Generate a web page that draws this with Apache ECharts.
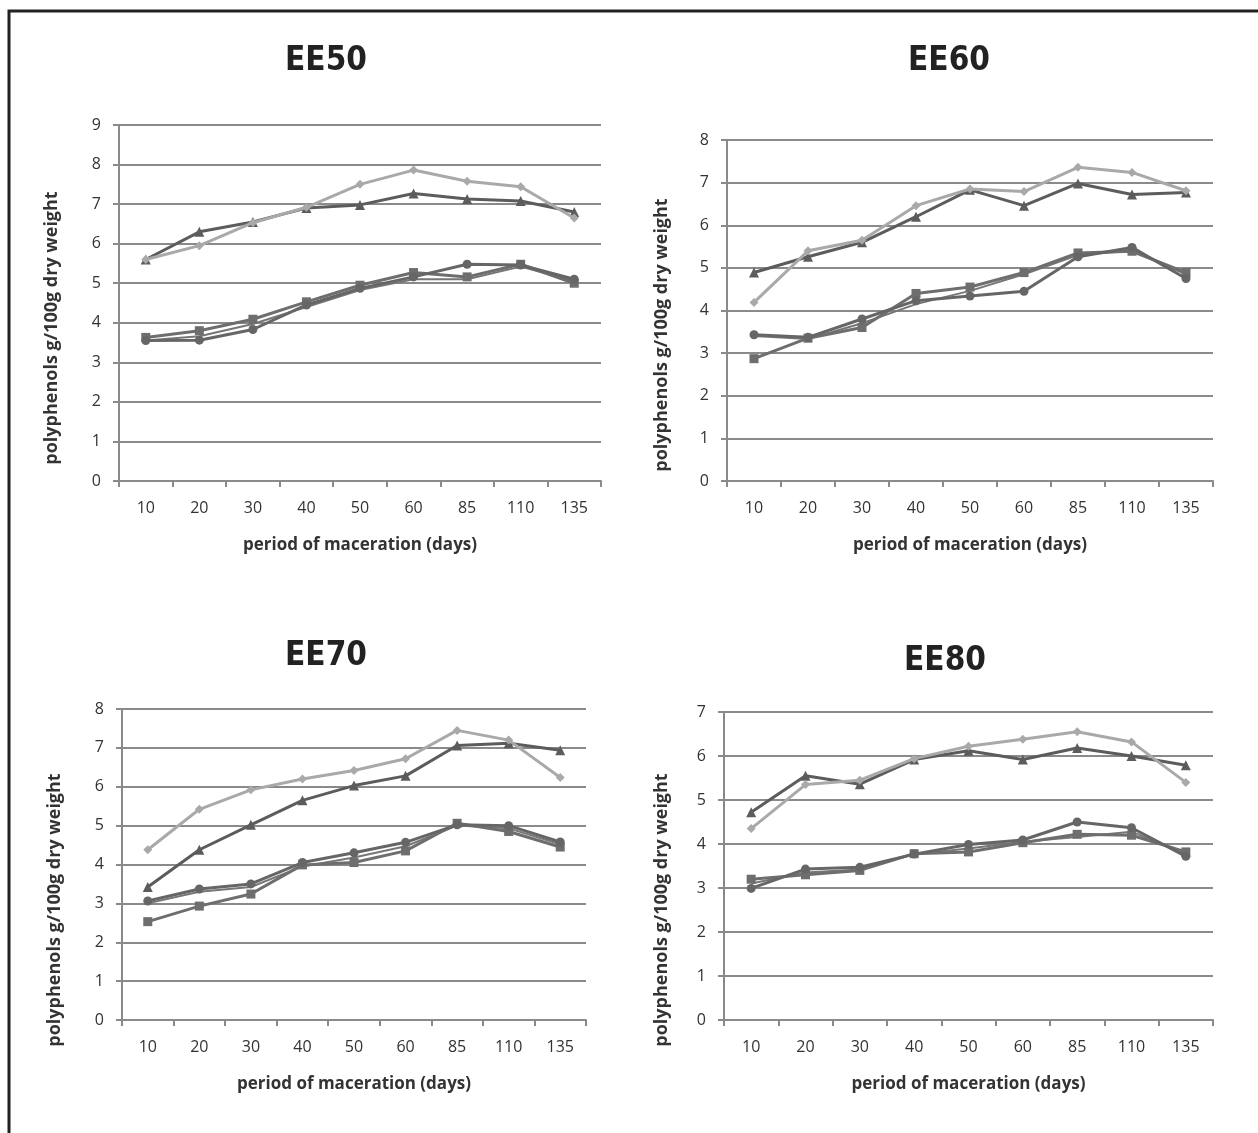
<!DOCTYPE html>
<html>
<head>
<meta charset="utf-8">
<script src="https://cdn.jsdelivr.net/npm/echarts@6/dist/echarts.min.js"></script>
<style>
  html, body { margin: 0; padding: 0; background: #fff; }
  #main { width: 1258px; height: 1133px; }
</style>
</head>
<body>
<div id="main"></div>
<script>
var days = ['10', '20', '30', '40', '50', '60', '85', '110', '135'];
var panelTitles = ['EE50', 'EE60', 'EE70', 'EE80'];
var yMaxes = [9, 8, 8, 7];

// EE50
var ee50Diamond  = [5.6, 5.95, 6.53, 6.92, 7.5, 7.86, 7.58, 7.44, 6.65];
var ee50Triangle = [5.6, 6.3, 6.55, 6.9, 6.98, 7.27, 7.13, 7.08, 6.8];
var ee50Circle   = [3.55, 3.56, 3.83, 4.45, 4.87, 5.16, 5.48, 5.46, 5.1];
var ee50Square   = [3.63, 3.8, 4.09, 4.53, 4.95, 5.27, 5.16, 5.48, 5.0];
var ee50Other    = [3.55, 3.66, 3.97, 4.4, 4.83, 5.1, 5.1, 5.42, 5.05];

// EE60
var ee60Diamond  = [4.19, 5.4, 5.65, 6.46, 6.85, 6.79, 7.36, 7.24, 6.81];
var ee60Triangle = [4.89, 5.26, 5.6, 6.2, 6.83, 6.46, 6.98, 6.72, 6.77];
var ee60Circle   = [3.43, 3.37, 3.8, 4.23, 4.34, 4.45, 5.26, 5.48, 4.75];
var ee60Square   = [2.87, 3.35, 3.6, 4.4, 4.55, 4.89, 5.35, 5.39, 4.89];
var ee60Other    = [3.4, 3.33, 3.7, 4.15, 4.46, 4.85, 5.3, 5.4, 4.85];

// EE70
var ee70Diamond  = [4.38, 5.42, 5.92, 6.2, 6.42, 6.72, 7.45, 7.2, 6.24];
var ee70Triangle = [3.42, 4.38, 5.02, 5.65, 6.03, 6.28, 7.06, 7.12, 6.94];
var ee70Circle   = [3.06, 3.37, 3.5, 4.05, 4.3, 4.57, 5.02, 5.0, 4.58];
var ee70Square   = [2.53, 2.93, 3.24, 3.99, 4.05, 4.35, 5.06, 4.85, 4.45];
var ee70Other    = [3.0, 3.3, 3.42, 3.95, 4.18, 4.47, 5.0, 4.93, 4.52];

// EE80
var ee80Diamond  = [4.35, 5.35, 5.45, 5.94, 6.22, 6.38, 6.55, 6.32, 5.4];
var ee80Triangle = [4.72, 5.55, 5.36, 5.92, 6.12, 5.92, 6.18, 6.0, 5.79];
var ee80Circle   = [2.99, 3.43, 3.47, 3.77, 3.99, 4.09, 4.5, 4.37, 3.72];
var ee80Square   = [3.2, 3.3, 3.4, 3.78, 3.82, 4.03, 4.22, 4.2, 3.82];
var ee80Other    = [3.1, 3.35, 3.42, 3.77, 3.9, 4.05, 4.16, 4.28, 3.77];

var panelData = [
    [ee50Diamond, ee50Triangle, ee50Circle, ee50Square, ee50Other],
    [ee60Diamond, ee60Triangle, ee60Circle, ee60Square, ee60Other],
    [ee70Diamond, ee70Triangle, ee70Circle, ee70Square, ee70Other],
    [ee80Diamond, ee80Triangle, ee80Circle, ee80Square, ee80Other]
];

var seriesStyle = [
    { symbol: 'diamond',  color: '#a9a9a9', size: 9,  width: 3 },
    { symbol: 'triangle', color: '#5c5c5c', size: 10, width: 3 },
    { symbol: 'circle',   color: '#666666', size: 9,  width: 3 },
    { symbol: 'rect',     color: '#6e6e6e', size: 9,  width: 3 },
    { symbol: 'none',     color: '#767676', size: 0,  width: 2 }
];

// grid boxes in px
var grids = [
    { left: 119, top: 125, width: 482, height: 356 },
    { left: 727, top: 140, width: 486, height: 341 },
    { left: 122, top: 709, width: 464, height: 311 },
    { left: 724, top: 712, width: 489, height: 308 }
];
var titlePos = [[321, 40], [944, 40], [321, 635], [940, 640]];
var yNamePos = [[52, 328], [662, 335], [55, 910], [662, 910]];

var fontMain = "'Open Sans', 'Noto Sans', sans-serif";
var fontTitle = "'DejaVu Sans Condensed', 'Open Sans', sans-serif";

var option = {
    animation: false,
    backgroundColor: '#ffffff',
    title: [],
    grid: [],
    xAxis: [],
    yAxis: [],
    series: [],
    graphic: [
        {
            type: 'polyline',
            shape: { points: [[9, 1133], [9, 11], [1258, 11]] },
            style: { stroke: '#222', lineWidth: 3, fill: null }
        }
    ]
};

for (var p = 0; p < 4; p++) {
    var g = grids[p];
    option.grid.push({ left: g.left, top: g.top, width: g.width, height: g.height, containLabel: false });
    option.title.push({
        text: panelTitles[p],
        left: titlePos[p][0],
        top: titlePos[p][1],
        textAlign: 'center',
        textStyle: { fontFamily: fontTitle, fontWeight: 'bold', fontSize: 33, color: '#222' }
    });
    option.xAxis.push({
        type: 'category',
        gridIndex: p,
        data: days,
        boundaryGap: true,
        name: 'period of maceration (days)',
        nameLocation: 'middle',
        nameGap: 56,
        nameTextStyle: { fontFamily: fontMain, fontWeight: 'bold', fontSize: 17, color: '#333' },
        axisLine: { lineStyle: { color: '#8a8a8a', width: 2 } },
        axisTick: { show: true, length: 6, lineStyle: { color: '#8a8a8a', width: 2 } },
        axisLabel: { margin: 19, fontFamily: fontMain, fontSize: 16, color: '#333' },
        splitLine: { show: false }
    });
    option.yAxis.push({
        type: 'value',
        gridIndex: p,
        min: 0,
        max: yMaxes[p],
        interval: 1,
        axisLine: { show: true, lineStyle: { color: '#8a8a8a', width: 2 } },
        axisTick: { show: true, length: 6, lineStyle: { color: '#8a8a8a', width: 2 } },
        axisLabel: { margin: 18, fontFamily: fontMain, fontSize: 16, color: '#333' },
        splitLine: { show: true, lineStyle: { color: '#8a8a8a', width: 2 } }
    });
    option.graphic.push({
        type: 'text',
        x: yNamePos[p][0],
        y: yNamePos[p][1],
        rotation: Math.PI / 2,
        style: {
            text: 'polyphenols g/100g dry weight',
            fontFamily: fontMain,
            fontWeight: 'bold',
            fontSize: 18,
            fill: '#333',
            textAlign: 'center',
            textVerticalAlign: 'middle'
        }
    });
    for (var s = 0; s < 5; s++) {
        var st = seriesStyle[s];
        option.series.push({
            type: 'line',
            xAxisIndex: p,
            yAxisIndex: p,
            data: panelData[p][s],
            symbol: st.symbol,
            symbolSize: st.size,
            showSymbol: st.symbol !== 'none',
            z: 2 + (4 - s),
            lineStyle: { color: st.color, width: st.width },
            itemStyle: { color: st.color }
        });
    }
}

var chart = echarts.init(document.getElementById('main'));
chart.setOption(option);

window.onresize = function() {
    chart.resize();
}
</script>
</body>
</html>
